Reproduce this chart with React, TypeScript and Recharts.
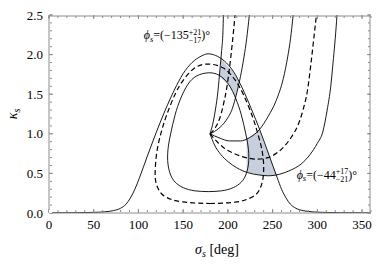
import { Area, ComposedChart, Label, Line, ReferenceDot, XAxis, YAxis } from "recharts";

const FONT = "'Liberation Serif', 'DejaVu Serif', serif";
const FRAME = "#8c8c8c";
const SHADE = "#c6cfdb";

// axis ticks
const xTicks = [0, 50, 100, 150, 200, 250, 300, 350];
const xMinorTicks = [
  0, 10, 20, 30, 40, 50, 60, 70, 80, 90, 100, 110, 120, 130, 140, 150, 160, 170, 180, 190,
  200, 210, 220, 230, 240, 250, 260, 270, 280, 290, 300, 310, 320, 330, 340, 350, 360,
];
const yTicks = [0, 0.5, 1, 1.5, 2, 2.5];
const yMinorTicks = [
  0, 0.1, 0.2, 0.3, 0.4, 0.5, 0.6, 0.7, 0.8, 0.9, 1, 1.1, 1.2, 1.3, 1.4, 1.5, 1.6, 1.7, 1.8,
  1.9, 2, 2.1, 2.2, 2.3, 2.4, 2.5,
];

// curves as [sigma_s, kappa_s]
const humpOuter = [
  [0, 0.003], [30, 0.004], [50, 0.008], [62, 0.015], [72, 0.03], [80, 0.06], [86, 0.11],
  [91, 0.19], [96, 0.3], [101, 0.44], [110, 0.72], [120, 1.02], [130, 1.3], [140, 1.55],
  [150, 1.76], [160, 1.9], [170, 1.98], [178, 2.01], [186, 1.99], [196, 1.92], [206, 1.79],
  [216, 1.58], [226, 1.32], [236, 1.04], [246, 0.73], [255, 0.45], [260, 0.3], [265, 0.19],
  [270, 0.11], [276, 0.06], [284, 0.03], [294, 0.015], [306, 0.008], [326, 0.004], [360, 0.003],
];
const humpMid = [
  [180, 0.12], [195, 0.125], [210, 0.14], [221, 0.17], [231, 0.23], [236, 0.31], [239, 0.42],
  [240, 0.6], [238, 0.8], [234, 0.98], [228, 1.2], [218, 1.48], [208, 1.68], [195, 1.83],
  [179, 1.88], [164, 1.84], [151, 1.69], [141, 1.5], [131, 1.22], [125, 1.0], [121, 0.8],
  [119, 0.6], [119, 0.42], [122, 0.31], [127, 0.23], [137, 0.17], [150, 0.14], [165, 0.125],
  [180, 0.12],
];
const humpInner = [
  [178, 0.27], [193, 0.28], [206, 0.32], [215, 0.39], [220, 0.48], [223, 0.62], [223, 0.8],
  [220, 1.0], [215, 1.24], [209, 1.44], [201, 1.62], [190, 1.74], [178, 1.77], [165, 1.73],
  [155, 1.62], [147, 1.44], [141, 1.24], [136, 1.0], [133, 0.8], [133, 0.62], [136, 0.48],
  [141, 0.39], [150, 0.32], [163, 0.28], [178, 0.27],
];
// phi_s = -135 deg family
const phiALow = [[180, 1.0], [183, 1.12], [186, 1.3], [189, 1.55], [191, 1.8], [193, 2.05], [194.5, 2.3], [195, 2.5]];
const phiAMid = [[180, 1.0], [186, 1.08], [191, 1.2], [195, 1.37], [199, 1.6], [202, 1.85], [205, 2.15], [208, 2.5]];
const phiAHigh = [[180, 1.0], [190, 1.07], [198, 1.17], [205, 1.32], [210, 1.52], [214, 1.72], [218, 1.97], [221, 2.2], [224, 2.5]];
// phi_s = -44 deg family
const phiBIn = [
  [180, 1.0], [190, 0.95], [202, 0.91], [214, 0.91], [224, 0.95], [235, 1.05], [245, 1.22],
  [254, 1.42], [262, 1.7], [267, 1.98], [270, 2.2], [273, 2.5],
];
const phiBMid = [
  [180, 1.0], [188, 0.9], [197, 0.81], [207, 0.75], [220, 0.7], [233, 0.68], [245, 0.7],
  [255, 0.76], [263, 0.84], [271, 0.96], [278, 1.1], [284, 1.3], [289, 1.55], [293, 1.9],
  [296, 2.2], [299, 2.5],
];
const phiBOut = [
  [180, 1.0], [185, 0.86], [192, 0.74], [200, 0.65], [210, 0.57], [222, 0.51], [235, 0.48],
  [245, 0.47], [258, 0.49], [270, 0.54], [282, 0.62], [292, 0.74], [300, 0.88], [306, 1.02],
  [311, 1.3], [315, 1.6], [318, 1.95], [320, 2.2], [322, 2.5],
];

// shaded overlaps as [sigma_s, kappa low, kappa high]
const shadeUpper = [
  [190.3, 1.73, 1.74], [192.5, 1.7, 1.95], [200, 1.63, 1.85], [205, 1.54, 1.8],
  [208.3, 1.46, 1.74], [210.5, 1.55, 1.7], [212.6, 1.66, 1.66],
];
const shadeLower = [
  [221, 0.51, 0.95], [223, 0.51, 0.95], [228, 0.5, 0.99], [235.5, 0.48, 1.05],
  [240, 0.475, 0.9], [246, 0.47, 0.73], [250, 0.47, 0.61], [254.5, 0.48, 0.48],
];

// anchor so every tick axis gets a series of its own
const anchor = [[0, 0]];

const toPts = (pts: number[][]) => pts.map(([x, y]) => ({ x, y }));
const toBand = (pts: number[][]) => pts.map(([x, lo, hi]) => ({ x, y: [lo, hi] }));

const PhiLabel = ({ viewBox, main, up, down }: any) => {
  const { x, y } = viewBox;
  return (
    <text x={x} y={y} style={{ fontFamily: FONT, fontSize: 12 }} fill="#000">
      <tspan style={{ fontStyle: "italic" }}>ϕ</tspan>
      <tspan style={{ fontStyle: "italic", fontSize: 8.5 }} dy={2.5}>s</tspan>
      <tspan dy={-2.5}>=(−{main}</tspan>
      <tspan style={{ fontSize: 8 }} dy={-4.5}>{up}</tspan>
      <tspan style={{ fontSize: 8 }} dx={-12.5} dy={8}>{down}</tspan>
      <tspan dy={-3.5}>)°</tspan>
    </text>
  );
};

const tickStyle = { style: { fontFamily: FONT, fontSize: 13 }, fill: "#000" };
const blank = () => "";

const App = () => {
  const curve = (pts: number[][], key: string, dashed = false, type: any = "natural") => (
    <Line
      key={key}
      data={toPts(pts)}
      dataKey="y"
      type={type}
      stroke="#000"
      strokeWidth={dashed ? 1.2 : 0.9}
      strokeDasharray={dashed ? "5 3" : undefined}
      dot={false}
      activeDot={false}
      isAnimationActive={false}
    />
  );

  const tickAxisX = (id: string, top: boolean, ticks: number[], size: number, line: boolean) => (
    <XAxis
      key={id}
      xAxisId={id}
      dataKey="x"
      orientation={top ? "top" : "bottom"}
      type="number"
      domain={[0, 360]}
      allowDataOverflow
      ticks={ticks}
      interval={0}
      mirror
      height={1}
      tickSize={size}
      tickFormatter={blank}
      tickLine={{ stroke: FRAME }}
      axisLine={line ? { stroke: FRAME } : false}
    />
  );
  const tickAxisY = (id: string, right: boolean, ticks: number[], size: number, line: boolean) => (
    <YAxis
      key={id}
      yAxisId={id}
      orientation={right ? "right" : "left"}
      type="number"
      domain={[0, 2.5]}
      allowDataOverflow
      ticks={ticks}
      interval={0}
      mirror
      width={1}
      tickSize={size}
      tickFormatter={blank}
      tickLine={{ stroke: FRAME }}
      axisLine={line ? { stroke: FRAME } : false}
    />
  );
  const hidden = (xId: string, yId: string) => (
    <Line
      key={xId + yId}
      xAxisId={xId}
      yAxisId={yId}
      data={toPts(anchor)}
      dataKey="y"
      stroke="none"
      dot={false}
      activeDot={false}
      isAnimationActive={false}
    />
  );

  return (
    <div style={{ width: 381, height: 266 }}>
      <style>{"body{margin:0}"}</style>
      <ComposedChart width={381} height={266} margin={{ top: 15, right: 10, bottom: 0, left: 0 }}>
        <XAxis
          dataKey="x"
          type="number"
          domain={[0, 360]}
          allowDataOverflow
          ticks={xTicks}
          interval={0}
          height={53}
          tickSize={0}
          tickMargin={7}
          tick={tickStyle}
          axisLine={{ stroke: FRAME }}
        >
          <Label
            content={(p: any) => (
              <text x={p.viewBox.x + 168} y={p.viewBox.y + 41} textAnchor="middle" style={{ fontFamily: FONT, fontSize: 14 }}>
                <tspan style={{ fontStyle: "italic" }}>σ</tspan>
                <tspan style={{ fontStyle: "italic", fontSize: 10 }} dy={3}>s</tspan>
                <tspan dy={-3}> [deg]</tspan>
              </text>
            )}
          />
        </XAxis>
        {tickAxisX("bMinor", false, xMinorTicks, 2, false)}
        {tickAxisX("bMajor", false, xTicks, 4, false)}
        {tickAxisX("tMinor", true, xMinorTicks, 2, true)}
        {tickAxisX("tMajor", true, xTicks, 4, false)}
        <YAxis
          type="number"
          domain={[0, 2.5]}
          allowDataOverflow
          ticks={yTicks}
          interval={0}
          width={49}
          tickSize={0}
          tickMargin={6}
          tick={tickStyle}
          tickFormatter={(v: number) => v.toFixed(1)}
          axisLine={{ stroke: FRAME }}
        >
          <Label
            content={(p: any) => {
              const cx = p.viewBox.x + 17;
              const cy = p.viewBox.y + p.viewBox.height / 2;
              return (
                <text x={cx} y={cy} transform={`rotate(-90 ${cx} ${cy})`} textAnchor="middle" style={{ fontFamily: FONT, fontSize: 14 }}>
                  <tspan style={{ fontStyle: "italic" }}>κ</tspan>
                  <tspan style={{ fontStyle: "italic", fontSize: 10 }} dy={3}>s</tspan>
                </text>
              );
            }}
          />
        </YAxis>
        {tickAxisY("lMinor", false, yMinorTicks, 2, false)}
        {tickAxisY("lMajor", false, yTicks, 4, false)}
        {tickAxisY("rMinor", true, yMinorTicks, 2, true)}
        {tickAxisY("rMajor", true, yTicks, 4, false)}

        {hidden("bMinor", "lMinor")}
        {hidden("bMajor", "lMajor")}
        {hidden("tMinor", "rMinor")}
        {hidden("tMajor", "rMajor")}

        <Area data={toBand(shadeUpper)} dataKey="y" type="linear" fill={SHADE} fillOpacity={1} stroke="none" isAnimationActive={false} />
        <Area data={toBand(shadeLower)} dataKey="y" type="linear" fill={SHADE} fillOpacity={1} stroke="none" isAnimationActive={false} />

        {curve(humpOuter, "humpOuter", false, "monotone")}
        {curve(humpMid, "humpMid", true)}
        {curve(humpInner, "humpInner")}
        {curve(phiALow, "phiALow", false, "monotone")}
        {curve(phiAMid, "phiAMid", true, "monotone")}
        {curve(phiAHigh, "phiAHigh", false, "monotone")}
        {curve(phiBIn, "phiBIn", false, "monotone")}
        {curve(phiBMid, "phiBMid", true, "monotone")}
        {curve(phiBOut, "phiBOut", false, "monotone")}

        <ReferenceDot x={107} y={2.18} r={1} fill="none" stroke="none" label={(p: any) => <PhiLabel viewBox={p.viewBox} main="135" up="+21" down="−17" />} />
        <ReferenceDot x={278} y={0.42} r={1} fill="none" stroke="none" label={(p: any) => <PhiLabel viewBox={p.viewBox} main="44" up="+17" down="−21" />} />
      </ComposedChart>
    </div>
  );
};

export default App;
